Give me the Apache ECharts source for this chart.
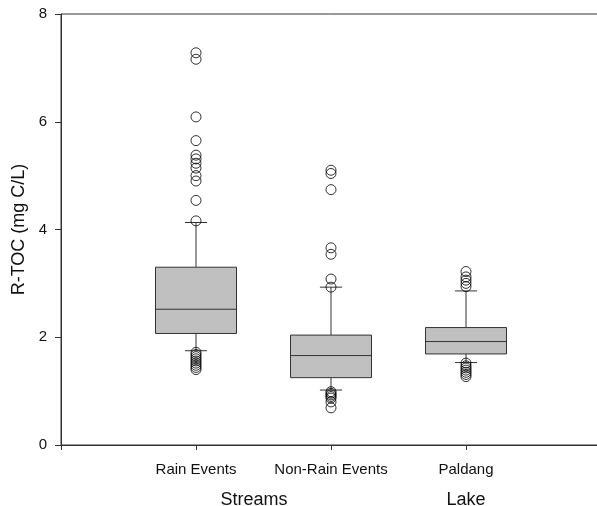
<!DOCTYPE html>
<html>
<head>
<meta charset="utf-8">
<script src="https://cdn.jsdelivr.net/npm/echarts@6/dist/echarts.min.js"></script>
<style>
  html, body { margin: 0; padding: 0; background: #fff; }
  #chart { width: 597px; height: 506px; }
</style>
</head>
<body>
<div id="chart"></div>
<script>
  // categories along x (placed at 1, 2, 3)
  var categories = ['Rain Events', 'Non-Rain Events', 'Paldang'];
  var categoryPos = [1, 2, 3];
  var groupLabels = ['Streams', 'Lake'];
  var groupPos = [1.43, 3];

  // box statistics per category
  var whiskerLow = [1.75, 1.02, 1.53];
  var q1 = [2.07, 1.25, 1.69];
  var median = [2.52, 1.66, 1.92];
  var q3 = [3.30, 2.04, 2.18];
  var whiskerHigh = [4.13, 2.93, 2.86];

  // outliers per category
  var outliersRain = [7.28, 7.16, 6.09, 5.65, 5.38, 5.31, 5.23, 5.14, 5.00, 4.90, 4.54, 4.16,
    1.72, 1.68, 1.64, 1.60, 1.56, 1.52, 1.48, 1.44, 1.40];
  var outliersNonRain = [5.10, 5.04, 4.74, 3.66, 3.54, 3.08, 2.93,
    0.99, 0.96, 0.93, 0.90, 0.87, 0.80, 0.69];
  var outliersPaldang = [3.22, 3.12, 3.06, 3.00, 2.94,
    1.52, 1.47, 1.43, 1.39, 1.35, 1.31, 1.27];

  var yTicks = [0, 2, 4, 6, 8];

  var boxData = categoryPos.map(function (x, i) {
    return [x, whiskerLow[i], q1[i], median[i], q3[i], whiskerHigh[i]];
  });
  var outlierData = [];
  [outliersRain, outliersNonRain, outliersPaldang].forEach(function (list, i) {
    list.forEach(function (v) {
      outlierData.push([categoryPos[i], v]);
    });
  });

  var lineColor = '#333';
  var textColor = '#111';
  var font = 'Liberation Sans, Arial, sans-serif';

  function renderBox(params, api) {
    var x = api.value(0);
    var pLow = api.coord([x, api.value(1)]);
    var pQ1 = api.coord([x, api.value(2)]);
    var pMed = api.coord([x, api.value(3)]);
    var pQ3 = api.coord([x, api.value(4)]);
    var pHigh = api.coord([x, api.value(5)]);
    var band = api.size([1, 0])[0];
    var halfBox = band * 0.3;
    var halfCap = band * 0.082;
    var cx = pMed[0];
    var lineStyle = { stroke: lineColor, lineWidth: 1, fill: null };
    return {
      type: 'group',
      children: [
        { type: 'line', shape: { x1: cx, y1: pQ3[1], x2: cx, y2: pHigh[1] }, style: lineStyle },
        { type: 'line', shape: { x1: cx, y1: pQ1[1], x2: cx, y2: pLow[1] }, style: lineStyle },
        { type: 'line', shape: { x1: cx - halfCap, y1: pHigh[1], x2: cx + halfCap, y2: pHigh[1] }, style: lineStyle },
        { type: 'line', shape: { x1: cx - halfCap, y1: pLow[1], x2: cx + halfCap, y2: pLow[1] }, style: lineStyle },
        {
          type: 'rect',
          shape: { x: cx - halfBox, y: pQ3[1], width: halfBox * 2, height: pQ1[1] - pQ3[1] },
          style: { fill: '#c0c0c0', stroke: lineColor, lineWidth: 1 }
        },
        { type: 'line', shape: { x1: cx - halfBox, y1: pMed[1], x2: cx + halfBox, y2: pMed[1] }, style: lineStyle }
      ]
    };
  }

  var option = {
    animation: false,
    backgroundColor: '#fff',
    textStyle: { fontFamily: font },
    grid: {
      show: true,
      outerBoundsMode: 'none',
      containLabel: false,
      left: 61,
      top: 14,
      width: 540,
      bottom: 61,
      borderColor: lineColor,
      borderWidth: 1
    },
    xAxis: [{
      type: 'value',
      min: 0,
      max: 4,
      interval: 1,
      axisLine: { show: true, lineStyle: { color: lineColor, width: 1 } },
      axisTick: { show: true, length: 5, lineStyle: { color: lineColor }, customValues: [0].concat(categoryPos) },
      axisLabel: {
        show: true,
        customValues: categoryPos,
        margin: 17,
        color: textColor,
        fontSize: 15,
        fontFamily: font,
        formatter: function (v) {
          var i = categoryPos.indexOf(v);
          return i >= 0 ? categories[i] : '';
        }
      },
      splitLine: { show: false }
    }, {
      type: 'value',
      min: 0,
      max: 4,
      position: 'bottom',
      axisLine: { show: false },
      axisTick: { show: false },
      axisLabel: {
        show: true,
        customValues: groupPos,
        margin: 46,
        color: textColor,
        fontSize: 18,
        fontFamily: font,
        formatter: function (v) {
          var i = groupPos.indexOf(v);
          return i >= 0 ? groupLabels[i] : '';
        }
      },
      splitLine: { show: false }
    }],
    yAxis: {
      type: 'value',
      min: 0,
      max: 8,
      interval: 2,
      name: 'R-TOC (mg C/L)',
      nameLocation: 'middle',
      nameGap: 30,
      nameTextStyle: { color: textColor, fontSize: 18, fontFamily: font },
      axisLine: { show: true, lineStyle: { color: lineColor, width: 1 } },
      axisTick: { show: true, length: 6, lineStyle: { color: lineColor }, customValues: yTicks },
      axisLabel: { color: textColor, fontSize: 15, margin: 14, fontFamily: font, customValues: yTicks },
      splitLine: { show: false }
    },
    series: [{
      type: 'custom',
      name: 'box',
      renderItem: renderBox,
      data: boxData,
      encode: { x: 0, y: [1, 2, 3, 4, 5] },
      z: 2
    }, {
      type: 'scatter',
      name: 'outliers',
      data: outlierData,
      symbol: 'circle',
      symbolSize: 10,
      itemStyle: { color: 'rgba(0,0,0,0)', borderColor: '#000', borderWidth: 1 },
      z: 3
    }]
  };

  var chart = echarts.init(document.getElementById('chart'));
  chart.setOption(option);
</script>
</body>
</html>
